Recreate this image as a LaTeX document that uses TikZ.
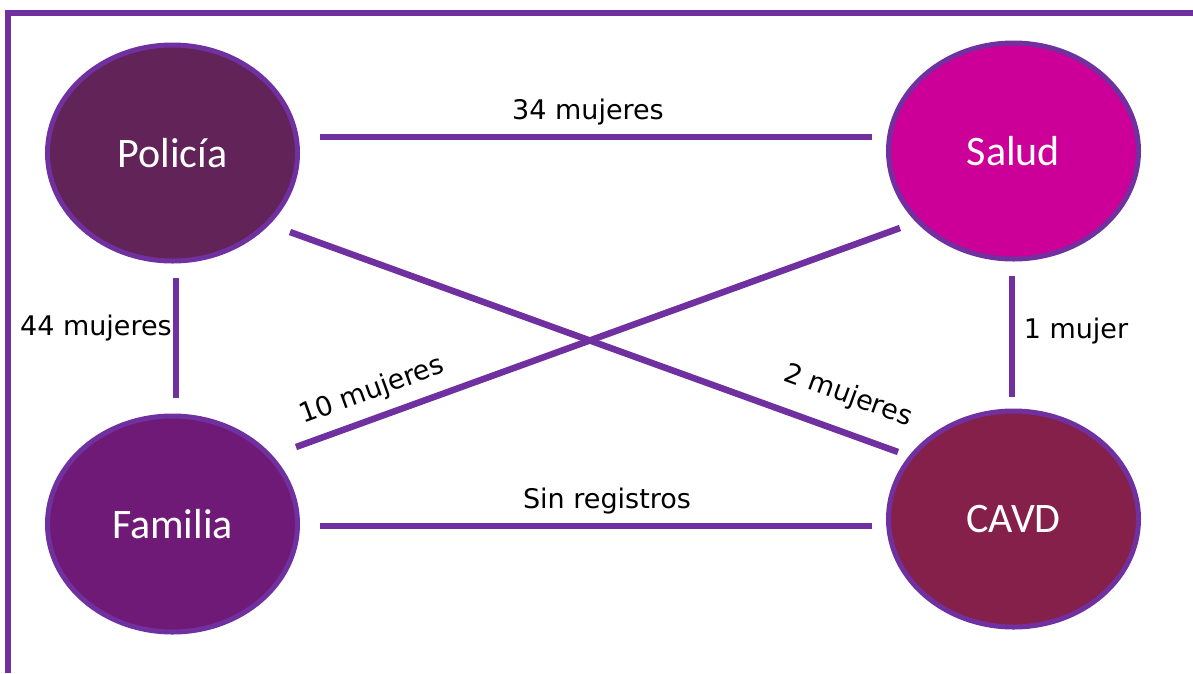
\documentclass[tikz,border=0pt]{standalone}
\usepackage{fontspec}
\setmainfont{Carlito}
\newfontfamily\lblfont{DejaVu Sans}
\usetikzlibrary{shapes.geometric}
\definecolor{vio}{HTML}{7030A0}
\definecolor{cpol}{HTML}{612358}
\definecolor{csal}{HTML}{CC0099}
\definecolor{cfam}{HTML}{6F1A77}
\definecolor{ccav}{HTML}{84204A}
\begin{document}
\begin{tikzpicture}[x=1pt,y=-1pt,
  circ/.style={ellipse, draw=vio, line width=5pt, minimum width=250pt, minimum height=216pt, inner sep=0pt, text=white, font=\fontsize{42}{44}\selectfont},
  link/.style={draw=vio, line width=6.5pt},
  lbl/.style={font=\lblfont\fontsize{27}{29}\selectfont, text=black, inner sep=0pt}]
\useasboundingbox (0,0) rectangle (1193,673);
\draw[vio, line width=6pt] (8,673) -- (8,13) -- (1193,13);
\node[circ, fill=cpol] (pol) at (172.5,153) {Policía};
\node[circ, fill=csal] (sal) at (1013.5,151) {Salud};
\node[circ, fill=cfam] (fam) at (172.5,524) {Familia};
\node[circ, fill=ccav] (cav) at (1013.5,519) {CAVD};
\coordinate (ps1) at (320,137);
\coordinate (ps2) at (872,137);
\coordinate (fc1) at (320,526);
\coordinate (fc2) at (872,526);
\coordinate (pf1) at (176,278);
\coordinate (pf2) at (176,398);
\coordinate (sc1) at (1012,276);
\coordinate (sc2) at (1012,397);
\coordinate (pc1) at (290,232);
\coordinate (pc2) at (898,452);
\coordinate (fs1) at (296,447);
\coordinate (fs2) at (900,228);
\draw[link] (ps1) -- (ps2);
\draw[link] (fc1) -- (fc2);
\draw[link] (pf1) -- (pf2);
\draw[link] (sc1) -- (sc2);
\draw[link] (pc1) -- (pc2);
\draw[link] (fs1) -- (fs2);
\node[lbl] (l34) at (588,112) {34 mujeres};
\node[lbl] (lsin) at (607,501) {Sin registros};
\node[lbl] (l44) at (96,328) {44 mujeres};
\node[lbl] (l1) at (1076,331) {1 mujer};
\node[lbl, rotate=20] (l10) at (372,391) {10 mujeres};
\node[lbl, rotate=-20] (l2) at (848,396) {2 mujeres};
\end{tikzpicture}
\end{document}
